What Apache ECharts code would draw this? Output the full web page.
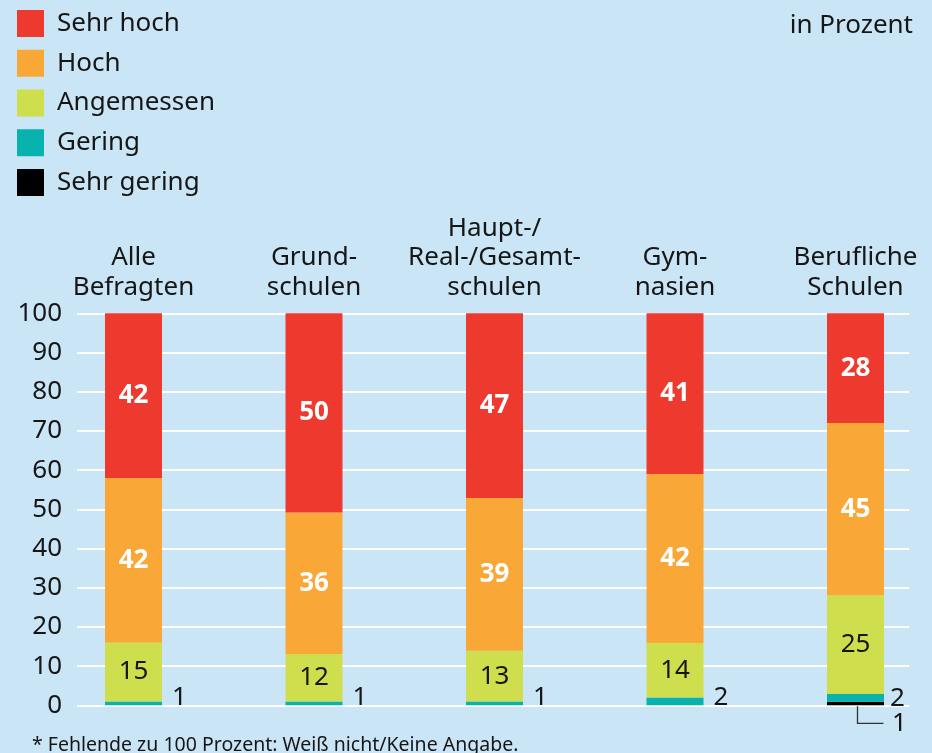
<!DOCTYPE html>
<html>
<head>
<meta charset="utf-8">
<script src="https://cdn.jsdelivr.net/npm/echarts@6/dist/echarts.min.js"></script>
<style>
html, body { margin: 0; background: #cae5f6; }
#chart { width: 932px; height: 753px; }
</style>
</head>
<body>
<div id="chart"></div>
<script>
// Schulformen (Kategorien)
var schulformen = ['Alle\nBefragten', 'Grund-\nschulen', 'Haupt-/\nReal-/Gesamt-\nschulen', 'Gym-\nnasien', 'Berufliche\nSchulen'];

// Balkenhoehen (von unten nach oben)
var sehrGering = [0, 0, 0, 0, 0.9];
var gering     = [1, 1, 1, 2, 2];
var angemessen = [15, 12.1, 12.9, 13.9, 25.2];
var hoch       = [42, 36.1, 39, 43.1, 43.9];
var sehrHoch   = [42, 50.8, 47.1, 41, 28];

// gedruckte Zahlen
var txtSehrGering = ['', '', '', '', '1'];
var txtGering     = ['1', '1', '1', '2', '2'];
var txtAngemessen = ['15', '12', '13', '14', '25'];
var txtHoch       = ['42', '36', '39', '42', '45'];
var txtSehrHoch   = ['42', '50', '47', '41', '28'];

var yTicks = [0, 10, 20, 30, 40, 50, 60, 70, 80, 90, 100];

var font = '"Noto Sans", sans-serif';
var ink = '#161616';

var dom = document.getElementById('chart');
var myChart = echarts.init(dom);

function bar(name, values, color, extra) {
  var s = {
    name: name,
    type: 'bar',
    stack: 'all',
    xAxisIndex: 1,
    yAxisIndex: 1,
    barWidth: 57,
    itemStyle: { color: color },
    data: values
  };
  for (var k in extra) s[k] = extra[k];
  return s;
}

function inside(texts, color, weight) {
  return {
    show: true,
    position: 'inside',
    color: color,
    fontFamily: font,
    fontSize: 26,
    fontWeight: weight,
    formatter: function (p) { return texts[p.dataIndex]; }
  };
}

var option = {
  backgroundColor: '#cae5f6',
  animation: false,
  title: [
    { text: 'in Prozent', right: 14, top: 8,
      textStyle: { fontFamily: font, fontSize: 26, fontWeight: 'normal', color: ink } },
    { text: '* Fehlende zu 100 Prozent: Weiß nicht/Keine Angabe.', left: 27, top: 730,
      textStyle: { fontFamily: font, fontSize: 19.5, fontWeight: 'normal', color: ink } }
  ],
  legend: {
    orient: 'vertical',
    left: 17,
    top: 10,
    padding: 0,
    icon: 'rect',
    itemWidth: 27,
    itemHeight: 27,
    itemGap: 12.75,
    data: ['Sehr hoch', 'Hoch', 'Angemessen', 'Gering', 'Sehr gering'],
    textStyle: { fontFamily: font, fontSize: 26, color: ink, lineHeight: 27, padding: [0, 0, 0, 8] }
  },
  grid: [
    { left: 77, right: 23, top: 313.3, bottom: 47.7, outerBoundsMode: 'none' },
    { left: 43.25, width: 902.5, top: 313.3, bottom: 47.7, outerBoundsMode: 'none' }
  ],
  xAxis: [
    { gridIndex: 0, type: 'category', show: false, data: schulformen },
    {
      gridIndex: 1, type: 'category', position: 'top', data: schulformen,
      axisLine: { show: false }, axisTick: { show: false },
      axisLabel: { interval: 0, margin: 11, fontFamily: font, fontSize: 26, lineHeight: 29.5, color: ink }
    }
  ],
  yAxis: [
    {
      gridIndex: 0, type: 'value', min: 0, max: 100, interval: 10,
      axisLine: { show: false }, axisTick: { show: false },
      axisLabel: {
        margin: 15, fontFamily: font, fontSize: 26, color: ink,
        formatter: function (v) { return yTicks.indexOf(v) >= 0 ? String(v) : ''; }
      },
      splitLine: { lineStyle: { color: '#ffffff', width: 2 } }
    },
    { gridIndex: 1, type: 'value', min: 0, max: 100, show: false }
  ],
  series: [
    bar('Sehr gering', sehrGering.map(function (v, i) {
      return txtSehrGering[i] ? { value: v, label: { show: true } } : v;
    }), '#000000', {
      label: {
        show: false, position: 'bottom', distance: 5, offset: [44, 0],
        fontFamily: font, fontSize: 26, color: ink,
        formatter: function (p) { return txtSehrGering[p.dataIndex]; }
      }
    }),
    bar('Gering', gering.map(function (v, i) {
      return { value: v, label: { offset: sehrGering[i] > 0 ? [6, 10] : [10, 5] } };
    }), '#08b2ae', {
      label: {
        show: true, position: ['100%', '100%'], align: 'left', verticalAlign: 'bottom',
        fontFamily: font, fontSize: 26, lineHeight: 26, color: ink,
        formatter: function (p) { return txtGering[p.dataIndex]; }
      }
    }),
    bar('Angemessen', angemessen, '#cfde4c', { label: inside(txtAngemessen, ink, 'normal') }),
    bar('Hoch', hoch, '#f9a838', { label: inside(txtHoch, '#ffffff', 'bold') }),
    bar('Sehr hoch', sehrHoch, '#ee3a2e', { label: inside(txtSehrHoch, '#ffffff', 'bold') })
  ]
};

if (option && typeof option === 'object') {
  myChart.setOption(option);
}

// Hinweislinie zur "1" bei Beruflichen Schulen
var p0 = myChart.convertToPixel({ xAxisIndex: 1, yAxisIndex: 1 }, [4, 0]);
myChart.setOption({
  graphic: [{
    type: 'polyline',
    shape: { points: [[p0[0] + 2, p0[1] + 1], [p0[0] + 2, p0[1] + 18], [p0[0] + 28, p0[1] + 18]] },
    style: { stroke: '#333333', lineWidth: 1.3, fill: null }
  }]
});
</script>
</body>
</html>
